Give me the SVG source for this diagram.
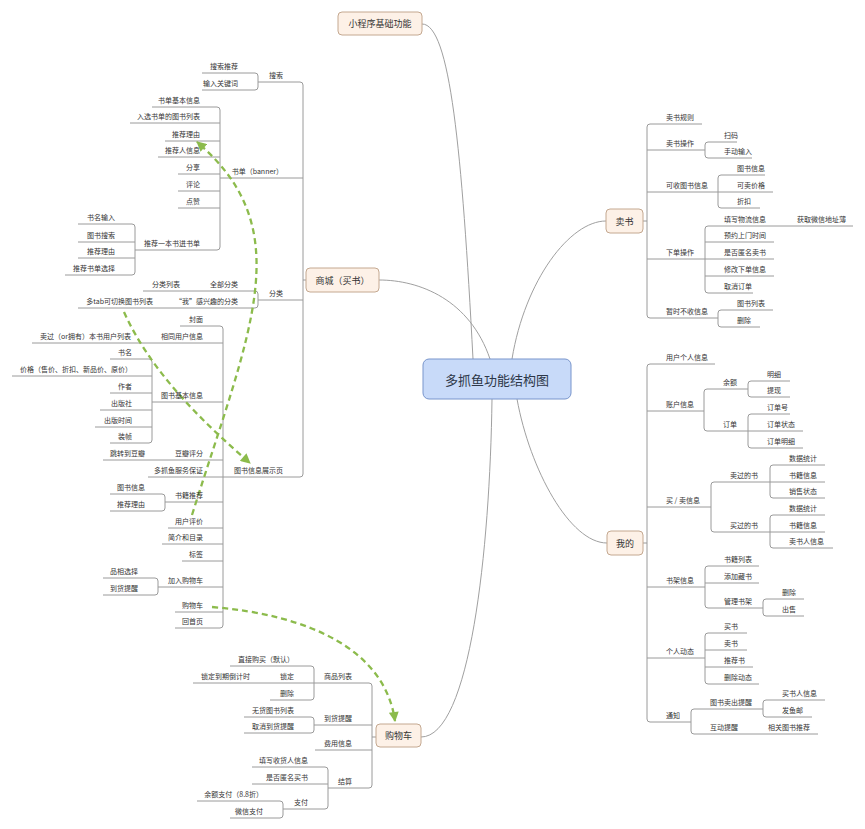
<svg xmlns="http://www.w3.org/2000/svg" width="865" height="829" viewBox="0 0 865 829">
<style>
text{font-family:"Noto Sans CJK SC","Noto Sans",sans-serif;fill:#333}
.s{font-size:7px}
.l{text-anchor:end}
.n{font-size:9px;text-anchor:middle;dominant-baseline:central}
.c{font-size:13px;text-anchor:middle;dominant-baseline:central;fill:#2d3748}
.box{fill:#fdf1e7;stroke:#c4a890;stroke-width:1}
.cbox{fill:#c8daf9;stroke:#7895cc;stroke-width:1}
.ln{fill:none;stroke:#9a9a9a;stroke-width:1}
.cv{fill:none;stroke:#a0a0a0;stroke-width:1}
.ar{fill:none;stroke:#8cbb4c;stroke-width:2.3;stroke-dasharray:6 4}
</style>
<defs>
<marker id="ah" markerUnits="userSpaceOnUse" viewBox="0 0 10 10" refX="9" refY="5" markerWidth="11" markerHeight="10" orient="auto">
<path d="M0,0 L10,5 L0,10 z" fill="#8cbb4c"/>
</marker>
</defs>
<g id="connectors">
<path class="cv" d="M422,24 C450,24 462,150 473,359"/>
<path class="cv" d="M379,280 C420,280 470,300 490,359"/>
<path class="cv" d="M606,221 C570,221 525,280 512,359"/>
<path class="cv" d="M517,399 C530,470 570,543 607,543"/>
<path class="cv" d="M492,399 C490,550 470,737 421,737"/>
<!-- 卖书 -->
<path class="ln" d="M643,221 H647 M702,124 H650 Q647,124 647,127 V315 Q647,318 650,318 H718 M647,150 H705 M647,192 H718 M647,259 H705"/>
<path class="ln" d="M737,142 H708 Q705,142 705,145 V155 Q705,158 708,158 H752"/>
<path class="ln" d="M765,175 H721 Q718,175 718,178 V205 Q718,208 721,208 H760 M718,192 H773"/>
<path class="ln" d="M853,226 H708 Q705,226 705,229 V290 Q705,293 708,293 H753 M705,242 H774 M705,259 H774 M705,276 H774"/>
<path class="ln" d="M773,310 H721 Q718,310 718,313 V324 Q718,327 721,327 H760"/>
<!-- 我的 -->
<path class="ln" d="M643,543 H647 M715,364 H650 Q647,364 647,367 V719 Q647,722 650,722 H691 M647,411 H704 M647,507 H711 M647,587 H705 M647,658 H705"/>
<path class="ln" d="M748,389 H707 Q704,389 704,392 V428 Q704,431 707,431 H748"/>
<path class="ln" d="M790,381 H751 Q748,381 748,384 V394 Q748,397 751,397 H790"/>
<path class="ln" d="M790,414 H751 Q748,414 748,417 V445 Q748,448 751,448 H803 M748,431 H803"/>
<path class="ln" d="M770,482 H714 Q711,482 711,485 V529 Q711,532 714,532 H770"/>
<path class="ln" d="M825,465 H773 Q770,465 770,468 V495 Q770,498 773,498 H825 M770,482 H825"/>
<path class="ln" d="M825,515 H773 Q770,515 770,518 V545 Q770,548 773,548 H833 M770,532 H825"/>
<path class="ln" d="M759,566 H708 Q705,566 705,569 V605 Q705,608 708,608 H763 M705,583 H759"/>
<path class="ln" d="M804,599 H766 Q763,599 763,602 V613 Q763,616 766,616 H804"/>
<path class="ln" d="M747,633 H708 Q705,633 705,636 V681 Q705,684 708,684 H759 M705,650 H747 M705,667 H753"/>
<path class="ln" d="M763,709 H694 Q691,709 691,712 V731 Q691,734 694,734 H818"/>
<path class="ln" d="M825,700 H766 Q763,700 763,703 V714 Q763,717 766,717 H812"/>
<!-- 商城 -->
<path class="ln" d="M306,280 H303 M258,82 H300 Q303,82 303,85 V474 Q303,477 300,477 H223 M303,178 H220 M303,300 H258"/>
<path class="ln" d="M202,73 H255 Q258,73 258,76 V87 Q258,90 255,90 H202"/>
<path class="ln" d="M152,107 H217 Q220,107 220,110 V247 Q220,250 217,250 H135 M220,123 H130 M220,141 H165 M220,157 H158 M220,174 H178 M220,191 H178 M220,208 H178"/>
<path class="ln" d="M78,224 H132 Q135,224 135,227 V272 Q135,275 132,275 H65 M135,242 H78 M135,258 H78"/>
<path class="ln" d="M143,291 H255 Q258,291 258,294 V305 Q258,308 255,308 H78"/>
<path class="ln" d="M180,326 H220 Q223,326 223,329 V625 Q223,628 220,628 H175 M223,343 H32 M223,402 H152 M223,460 H103 M223,477 H148 M223,502 H165 M223,528 H168 M223,544 H162 M223,561 H182 M223,587 H158 M223,612 H175"/>
<path class="ln" d="M110,359 H149 Q152,359 152,362 V440 Q152,443 149,443 H110 M152,376 H12 M152,393 H110 M152,410 H100 M152,427 H95"/>
<path class="ln" d="M110,494 H162 Q165,494 165,497 V508 Q165,511 162,511 H110"/>
<path class="ln" d="M103,578 H155 Q158,578 158,581 V592 Q158,595 155,595 H103"/>
<!-- 购物车 -->
<path class="ln" d="M376,737 H372 M314,683 H369 Q372,683 372,686 V785 Q372,788 369,788 H328 M372,725 H314 M372,750 H315"/>
<path class="ln" d="M230,666 H311 Q314,666 314,669 V697 Q314,700 311,700 H270 M314,683 H193"/>
<path class="ln" d="M244,717 H311 Q314,717 314,720 V730 Q314,733 311,733 H244"/>
<path class="ln" d="M252,767 H325 Q328,767 328,770 V806 Q328,809 325,809 H283 M328,784 H252"/>
<path class="ln" d="M197,801 H280 Q283,801 283,804 V815 Q283,818 280,818 H230"/>
<!-- green dashed arrows -->
<path class="ar" marker-end="url(#ah)" d="M192,515 C250,330 300,230 197,142"/>
<path class="ar" marker-end="url(#ah)" d="M124,312 C150,370 200,420 250,463"/>
<path class="ar" marker-end="url(#ah)" d="M212,607 C310,615 385,650 395,721"/>
</g>
<g id="center"><rect class="cbox" x="423" y="359" width="148" height="40" rx="6"/><text class="c" x="497" y="379">多抓鱼功能结构图</text></g>
<g id="basic"><rect class="box" x="338" y="12" width="84" height="23" rx="4"/><text class="n" x="380" y="23.5">小程序基础功能</text></g>
<g id="mall"><rect class="box" x="306" y="268" width="73" height="24" rx="4"/><text class="n" x="342.5" y="280">商城（买书）</text></g>
<g id="sell"><rect class="box" x="606" y="209" width="37" height="24" rx="4"/><text class="n" x="624.5" y="221">卖书</text></g>
<g id="mine"><rect class="box" x="607" y="531" width="36" height="24" rx="4"/><text class="n" x="625" y="543">我的</text></g>
<g id="cart"><rect class="box" x="376" y="724" width="45" height="23" rx="4"/><text class="n" x="398.5" y="735.5">购物车</text></g>
<g id="sell-topics" class="s">
<g id="r1"><text class="s" x="666" y="120">卖书规则</text></g>
<g id="r2"><text class="s" x="666" y="146">卖书操作</text></g>
<g id="r3"><text class="s" x="724" y="138">扫码</text></g>
<g id="r4"><text class="s" x="724" y="154">手动输入</text></g>
<g id="r5"><text class="s" x="666" y="188">可收图书信息</text></g>
<g id="r6"><text class="s" x="737" y="171">图书信息</text></g>
<g id="r7"><text class="s" x="737" y="188">可卖价格</text></g>
<g id="r8"><text class="s" x="737" y="204">折扣</text></g>
<g id="r9"><text class="s" x="666" y="255">下单操作</text></g>
<g id="r10"><text class="s" x="724" y="222">填写物流信息</text></g>
<g id="r11"><text class="s" x="797" y="222">获取微信地址薄</text></g>
<g id="r12"><text class="s" x="724" y="238">预约上门时间</text></g>
<g id="r13"><text class="s" x="724" y="255">是否匿名卖书</text></g>
<g id="r14"><text class="s" x="724" y="272">修改下单信息</text></g>
<g id="r15"><text class="s" x="724" y="289">取消订单</text></g>
<g id="r16"><text class="s" x="666" y="314">暂时不收信息</text></g>
<g id="r17"><text class="s" x="737" y="306">图书列表</text></g>
<g id="r18"><text class="s" x="737" y="323">删除</text></g>
</g>
<g id="mine-topics">
<g id="m1"><text class="s" x="666" y="360">用户个人信息</text></g>
<g id="m2"><text class="s" x="666" y="407">账户信息</text></g>
<g id="m3"><text class="s" x="723" y="385">余额</text></g>
<g id="m4"><text class="s" x="767" y="377">明细</text></g>
<g id="m5"><text class="s" x="767" y="393">提现</text></g>
<g id="m6"><text class="s" x="723" y="427">订单</text></g>
<g id="m7"><text class="s" x="767" y="410">订单号</text></g>
<g id="m8"><text class="s" x="767" y="427">订单状态</text></g>
<g id="m9"><text class="s" x="767" y="444">订单明细</text></g>
<g id="m10"><text class="s" x="666" y="503">买 / 卖信息</text></g>
<g id="m11"><text class="s" x="730" y="478">卖过的书</text></g>
<g id="m12"><text class="s" x="789" y="461">数据统计</text></g>
<g id="m13"><text class="s" x="789" y="478">书籍信息</text></g>
<g id="m14"><text class="s" x="789" y="494">销售状态</text></g>
<g id="m15"><text class="s" x="730" y="528">买过的书</text></g>
<g id="m16"><text class="s" x="789" y="511">数据统计</text></g>
<g id="m17"><text class="s" x="789" y="528">书籍信息</text></g>
<g id="m18"><text class="s" x="789" y="544">卖书人信息</text></g>
<g id="m19"><text class="s" x="666" y="583">书架信息</text></g>
<g id="m20"><text class="s" x="724" y="562">书籍列表</text></g>
<g id="m21"><text class="s" x="724" y="579">添加藏书</text></g>
<g id="m22"><text class="s" x="724" y="604">管理书架</text></g>
<g id="m23"><text class="s" x="782" y="595">删除</text></g>
<g id="m24"><text class="s" x="782" y="612">出售</text></g>
<g id="m25"><text class="s" x="666" y="654">个人动态</text></g>
<g id="m26"><text class="s" x="724" y="629">买书</text></g>
<g id="m27"><text class="s" x="724" y="646">卖书</text></g>
<g id="m28"><text class="s" x="724" y="663">推荐书</text></g>
<g id="m29"><text class="s" x="724" y="680">删除动态</text></g>
<g id="m30"><text class="s" x="666" y="718">通知</text></g>
<g id="m31"><text class="s" x="710" y="705">图书卖出提醒</text></g>
<g id="m32"><text class="s" x="782" y="696">买书人信息</text></g>
<g id="m33"><text class="s" x="782" y="713">发鱼邮</text></g>
<g id="m34"><text class="s" x="710" y="730">互动提醒</text></g>
<g id="m35"><text class="s" x="768" y="730">相关图书推荐</text></g>
</g>
<g id="mall-topics">
<g id="s1"><text class="s l" x="283" y="78">搜索</text></g>
<g id="s2"><text class="s l" x="238" y="69">搜索推荐</text></g>
<g id="s3"><text class="s l" x="238" y="86">输入关键词</text></g>
<g id="s4"><text class="s l" x="283" y="174">书单（banner）</text></g>
<g id="s5"><text class="s l" x="200" y="103">书单基本信息</text></g>
<g id="s6"><text class="s l" x="200" y="119">入选书单的图书列表</text></g>
<g id="s7"><text class="s l" x="200" y="137">推荐理由</text></g>
<g id="s8"><text class="s l" x="200" y="153">推荐人信息</text></g>
<g id="s9"><text class="s l" x="200" y="170">分享</text></g>
<g id="s10"><text class="s l" x="200" y="187">评论</text></g>
<g id="s11"><text class="s l" x="200" y="204">点赞</text></g>
<g id="s12"><text class="s l" x="200" y="246">推荐一本书进书单</text></g>
<g id="s13"><text class="s l" x="115" y="220">书名输入</text></g>
<g id="s14"><text class="s l" x="115" y="238">图书搜索</text></g>
<g id="s15"><text class="s l" x="115" y="254">推荐理由</text></g>
<g id="s16"><text class="s l" x="115" y="271">推荐书单选择</text></g>
<g id="s17"><text class="s l" x="283" y="296">分类</text></g>
<g id="s18"><text class="s l" x="238" y="287">全部分类</text></g>
<g id="s19"><text class="s l" x="180" y="287">分类列表</text></g>
<g id="s20"><text class="s l" x="238" y="304">“我”感兴趣的分类</text></g>
<g id="s21"><text class="s l" x="153" y="304">多tab可切换图书列表</text></g>
<g id="s22"><text class="s l" x="283" y="473">图书信息展示页</text></g>
<g id="s23"><text class="s l" x="203" y="322">封面</text></g>
<g id="s24"><text class="s l" x="203" y="339">相同用户信息</text></g>
<g id="s25"><text class="s l" x="131" y="339">卖过（or拥有）本书用户列表</text></g>
<g id="s26"><text class="s l" x="203" y="398">图书基本信息</text></g>
<g id="s27"><text class="s l" x="132" y="355">书名</text></g>
<g id="s28"><text class="s l" x="132" y="372">价格（售价、折扣、新品价、原价）</text></g>
<g id="s29"><text class="s l" x="132" y="389">作者</text></g>
<g id="s30"><text class="s l" x="132" y="406">出版社</text></g>
<g id="s31"><text class="s l" x="132" y="423">出版时间</text></g>
<g id="s32"><text class="s l" x="132" y="439">装帧</text></g>
<g id="s33"><text class="s l" x="203" y="456">豆瓣评分</text></g>
<g id="s34"><text class="s l" x="145" y="456">跳转到豆瓣</text></g>
<g id="s35"><text class="s l" x="203" y="473">多抓鱼服务保证</text></g>
<g id="s36"><text class="s l" x="203" y="498">书籍推荐</text></g>
<g id="s37"><text class="s l" x="145" y="490">图书信息</text></g>
<g id="s38"><text class="s l" x="145" y="507">推荐理由</text></g>
<g id="s39"><text class="s l" x="203" y="524">用户评价</text></g>
<g id="s40"><text class="s l" x="203" y="540">简介和目录</text></g>
<g id="s41"><text class="s l" x="203" y="557">标签</text></g>
<g id="s42"><text class="s l" x="203" y="583">加入购物车</text></g>
<g id="s43"><text class="s l" x="138" y="574">品相选择</text></g>
<g id="s44"><text class="s l" x="138" y="591">到货提醒</text></g>
<g id="s45"><text class="s l" x="203" y="608">购物车</text></g>
<g id="s46"><text class="s l" x="203" y="624">回首页</text></g>
</g>
<g id="cart-topics">
<g id="c1"><text class="s l" x="352" y="679">商品列表</text></g>
<g id="c2"><text class="s l" x="294" y="662">直接购买（默认）</text></g>
<g id="c3"><text class="s l" x="294" y="679">锁定</text></g>
<g id="c4"><text class="s l" x="250" y="679">锁定到期倒计时</text></g>
<g id="c5"><text class="s l" x="294" y="696">删除</text></g>
<g id="c6"><text class="s l" x="352" y="721">到货提醒</text></g>
<g id="c7"><text class="s l" x="294" y="713">无货图书列表</text></g>
<g id="c8"><text class="s l" x="294" y="729">取消到货提醒</text></g>
<g id="c9"><text class="s l" x="352" y="746">费用信息</text></g>
<g id="c10"><text class="s l" x="352" y="784">结算</text></g>
<g id="c11"><text class="s l" x="308" y="763">填写收货人信息</text></g>
<g id="c12"><text class="s l" x="308" y="780">是否匿名买书</text></g>
<g id="c13"><text class="s l" x="308" y="805">支付</text></g>
<g id="c14"><text class="s l" x="263" y="797">余额支付（8.8折）</text></g>
<g id="c15"><text class="s l" x="263" y="814">微信支付</text></g>
</g>
</svg>
